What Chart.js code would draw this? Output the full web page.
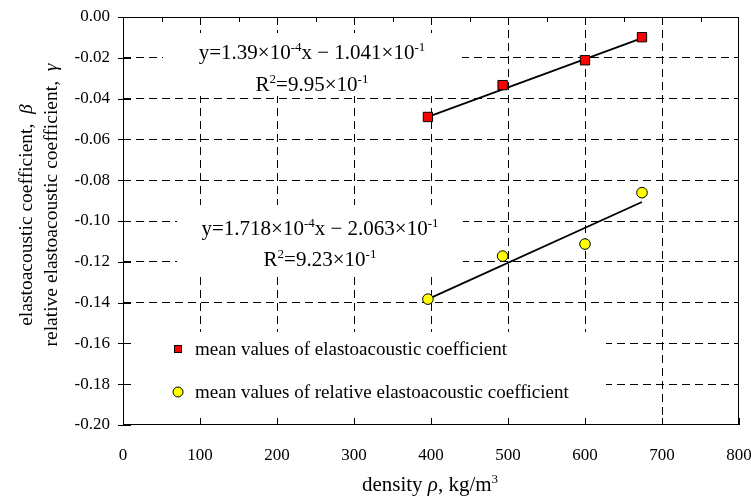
<!DOCTYPE html>
<html lang="en">
<head>
  <meta charset="UTF-8">
  <title>Elastoacoustic coefficient vs density</title>
  <script src="https://cdn.jsdelivr.net/npm/chart.js"></script>
  <style>
    body {
      margin: 0;
      background: #fff;
    }
  </style>
</head>
<body>
  <canvas id="chart" width="751" height="500"></canvas>

  <script>
    // values
    const density = [396, 493, 600, 674];
    const betaMean = [-0.0490, -0.0334, -0.0212, -0.0099];
    const gammaMean = [-0.1383, -0.1172, -0.1113, -0.0861];

    // end points of the two fitted lines
    const fitDensity = [396, 674];
    const betaFit = [-0.0490, -0.0104];
    const gammaFit = [-0.1383, -0.0907];

    const xMin = 0, xMax = 800, xStep = 100;
    const yMin = -0.20, yMax = 0.00, yStep = 0.02;

    const seriesNames = [
      'mean values of elastoacoustic coefficient',
      'mean values of relative elastoacoustic coefficient'
    ];
    const betaEq = [['y=1.39×10'], ['-4', 's'], ['x − 1.041×10'], ['-1', 's']];
    const betaR2 = [['R'], ['2', 's'], ['=9.95×10'], ['-1', 's']];
    const gammaEq = [['y=1.718×10'], ['-4', 's'], ['x − 2.063×10'], ['-1', 's']];
    const gammaR2 = [['R'], ['2', 's'], ['=9.23×10'], ['-1', 's']];
    const xTitle = [['density '], ['ρ', 'i'], [', kg/m'], ['3', 's']];
    const yTitle1 = [['elastoacoustic coefficient,  '], ['β', 'i']];
    const yTitle2 = [['relative elastoacoustic coefficient,  '], ['γ', 'i']];

    const serif = "'Liberation Serif', 'Times New Roman', serif";

    const toPts = (xs, ys) => xs.map((v, i) => ({ x: v, y: ys[i] }));

    // text with superscripts / italic parts
    function drawRich(ctx, parts, x, y, size, align) {
      const fontFor = st => (st === 'i' ? 'italic ' : '') + (st === 's' ? size * 0.62 : size) + 'px ' + serif;
      let w = 0;
      parts.forEach(([t, st]) => { ctx.font = fontFor(st); w += ctx.measureText(t).width; });
      let cx = align === 'center' ? x - w / 2 : x;
      ctx.textAlign = 'left';
      ctx.textBaseline = 'alphabetic';
      parts.forEach(([t, st]) => {
        ctx.font = fontFor(st);
        ctx.fillText(t, cx, st === 's' ? y - size * 0.4 : y);
        cx += ctx.measureText(t).width;
      });
    }

    const decor = {
      id: 'decor',
      beforeDatasetsDraw(chart) {
        const { ctx, chartArea: a, scales: { x, y } } = chart;
        ctx.save();

        // white boxes behind the texts hide the grid
        ctx.fillStyle = '#fff';
        ctx.fillRect(163, 33, 299, 63);
        ctx.fillRect(177, 205, 286, 72);
        ctx.fillRect(a.left + 1, 332, 482, 86);

        // frame
        ctx.strokeStyle = '#000';
        ctx.lineWidth = 1;
        ctx.strokeRect(a.left + 0.5, a.top + 0.5, a.right - a.left - 1, a.bottom - a.top - 1);

        // tick marks
        ctx.beginPath();
        y.ticks.forEach(t => {
          const py = Math.round(y.getPixelForValue(t.value)) + 0.5;
          ctx.moveTo(a.left - 5, py);
          ctx.lineTo(a.left + 8, py);
        });
        x.ticks.forEach(t => {
          const px = Math.round(x.getPixelForValue(t.value)) + 0.5;
          ctx.moveTo(px, a.bottom);
          ctx.lineTo(px, a.bottom - 7);
        });
        for (let v = xMin + xStep / 2; v < xMax; v += xStep / 2) {
          const px = Math.round(x.getPixelForValue(v)) + 0.5;
          ctx.moveTo(px, a.top);
          ctx.lineTo(px, a.top + 5);
        }
        ctx.stroke();

        ctx.fillStyle = '#000';
        drawRich(ctx, betaEq, 312, 59, 21, 'center');
        drawRich(ctx, betaR2, 312, 91, 21, 'center');
        drawRich(ctx, gammaEq, 320, 235, 21, 'center');
        drawRich(ctx, gammaR2, 320, 266, 21, 'center');

        // legend
        ctx.fillStyle = '#ff0000';
        ctx.fillRect(174, 345, 8, 8);
        ctx.strokeRect(174.5, 345.5, 7, 7);
        ctx.beginPath();
        ctx.arc(178, 392, 5, 0, Math.PI * 2);
        ctx.fillStyle = '#ffff00';
        ctx.fill();
        ctx.stroke();
        ctx.fillStyle = '#000';
        drawRich(ctx, [[seriesNames[0]]], 195, 355, 19, 'left');
        drawRich(ctx, [[seriesNames[1]]], 195, 398, 19, 'left');

        // axis titles
        drawRich(ctx, xTitle, 430, 491, 21, 'center');
        ctx.translate(32, 215);
        ctx.rotate(-Math.PI / 2);
        drawRich(ctx, yTitle1, 0, 0, 19.5, 'center');
        ctx.rotate(Math.PI / 2);
        ctx.translate(25, -10);
        ctx.rotate(-Math.PI / 2);
        drawRich(ctx, yTitle2, 0, 0, 19.5, 'center');
        ctx.restore();
      }
    };

    const gridColor = (min, max) => c =>
      (Math.abs(c.tick.value - min) < 1e-9 || Math.abs(c.tick.value - max) < 1e-9) ? 'rgba(0,0,0,0)' : '#000';

    new Chart(document.getElementById('chart'), {
      type: 'scatter',
      data: {
        datasets: [
          {
            data: toPts(density, betaMean),
            pointStyle: 'rect', pointRadius: 6.6,
            backgroundColor: '#ff0000', borderColor: '#000', borderWidth: 1, order: 0
          },
          {
            data: toPts(density, gammaMean),
            pointStyle: 'circle', pointRadius: 5.3,
            backgroundColor: '#ffff00', borderColor: '#000', borderWidth: 1, order: 0
          },
          {
            type: 'line', data: toPts(fitDensity, betaFit),
            borderColor: '#000', borderWidth: 1.8, pointRadius: 0, order: 1
          },
          {
            type: 'line', data: toPts(fitDensity, gammaFit),
            borderColor: '#000', borderWidth: 1.8, pointRadius: 0, order: 1
          }
        ]
      },
      options: {
        responsive: false,
        animation: false,
        layout: { padding: { top: 17, right: 12, left: 0, bottom: 0 } },
        plugins: { legend: { display: false }, tooltip: { enabled: false } },
        scales: {
          x: {
            type: 'linear', min: xMin, max: xMax,
            grid: { color: gridColor(xMin, xMax), drawTicks: false, lineWidth: 1 },
            border: { display: false, dash: [8, 5] },
            ticks: { stepSize: xStep, padding: 20, color: '#000', font: { family: serif, size: 17 } },
            afterFit: s => { s.height = 75; s.paddingLeft = 0; s.paddingRight = 0; }
          },
          y: {
            min: yMin, max: yMax,
            grid: { color: gridColor(yMin, yMax), drawTicks: false, lineWidth: 1 },
            border: { display: false, dash: [8, 5] },
            ticks: {
              stepSize: yStep, padding: 13, color: '#000', font: { family: serif, size: 17 },
              callback: v => (Math.abs(v) < 1e-9 ? 0 : v).toFixed(2)
            },
            afterFit: s => { s.width = 123; s.paddingTop = 0; s.paddingBottom = 0; }
          }
        }
      },
      plugins: [decor]
    });
  </script>
</body>
</html>
